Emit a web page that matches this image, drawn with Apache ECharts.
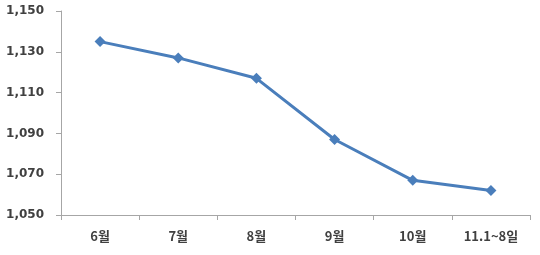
<!DOCTYPE html>
<html><head><meta charset="utf-8">
<script src="https://cdn.jsdelivr.net/npm/echarts@6/dist/echarts.min.js"></script>
<style>html,body{margin:0;padding:0;background:#fff}#c{width:540px;height:255px}</style>
</head><body><div id="c"></div>
<script>
const categories = ['6월','7월','8월','9월','10월','11.1~8일'];
const values = [1135, 1127, 1117, 1087, 1067, 1062];
const yTicks = [1050, 1070, 1090, 1110, 1130, 1150];

const chart = echarts.init(document.getElementById('c'));
chart.setOption({
  animation: false,
  grid: {left: 61, right: 10, top: 11, bottom: 40},
  xAxis: {
    type: 'category', data: categories, boundaryGap: true,
    axisLine: {lineStyle: {color: '#a6a6a6', width: 1}},
    axisTick: {show: true, length: 5, lineStyle: {color: '#a6a6a6'}},
    axisLabel: {color: '#404040', fontWeight: 'bold', fontSize: 13, margin: 15, fontFamily: 'Noto Sans CJK KR'}
  },
  yAxis: {
    type: 'value', min: yTicks[0], max: yTicks[yTicks.length-1], interval: 20,
    axisLine: {show: true, lineStyle: {color: '#a6a6a6', width: 1}},
    axisTick: {show: true, length: 5, lineStyle: {color: '#a6a6a6'}},
    splitLine: {show: false},
    axisLabel: {color: '#404040', fontWeight: 'bold', fontSize: 12, margin: 17, fontFamily: 'DejaVu Sans',
      formatter: v => v.toLocaleString('en-US')}
  },
  series: [{
    type: 'line', data: values,
    lineStyle: {color: '#4a7ebb', width: 3},
    itemStyle: {color: '#4a7ebb'},
    symbol: 'diamond', symbolSize: 11, showAllSymbol: true
  }]
});
</script></body></html>
